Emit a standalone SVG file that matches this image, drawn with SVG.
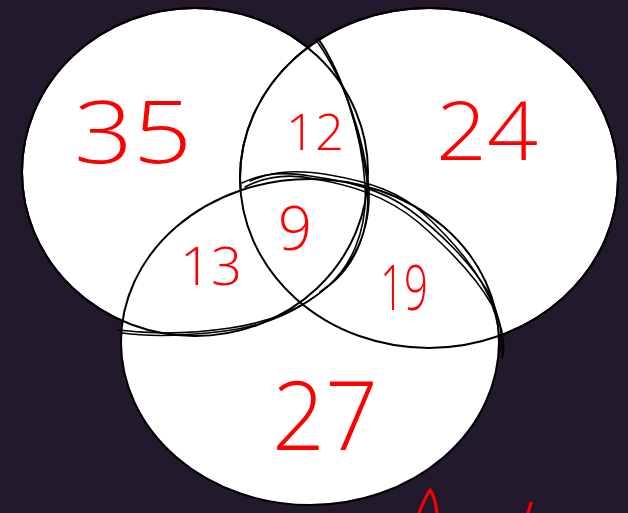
<svg xmlns="http://www.w3.org/2000/svg" width="628" height="513" viewBox="0 0 628 513">
<style>
.c{fill:#fff;stroke:#000;stroke-width:2}
.o{fill:none;stroke:#000;stroke-width:2}
.h{fill:none;stroke:#000;stroke-width:1.6;stroke-linecap:round;stroke-linejoin:round}
.n{fill:#ff0000;font-family:"Open Sans","Liberation Sans",sans-serif;font-weight:300}
</style>
<rect width="628" height="513" fill="#22192d"/>
<g id="circleA"><ellipse class="c" cx="195" cy="172" rx="173" ry="164"/></g>
<g id="circleB"><ellipse class="c" cx="429" cy="178" rx="189" ry="170"/></g>
<g id="circleC"><ellipse class="c" cx="310" cy="342" rx="189" ry="163"/></g>
<g id="outlines">
<ellipse class="o" cx="195" cy="172" rx="173" ry="164"/>
<ellipse class="o" cx="429" cy="178" rx="189" ry="170"/>
</g>
<g id="connectors">
<path class="h" stroke-width="2.8" d="M318 38 C340 70 360 130 367 180 C372 230 355 265 330 285 C300 310 270 322 230 328 C190 334 150 334 118 330"/>
<path class="h" d="M320 42 C343 75 362 135 365 185 C368 232 350 268 326 288 C298 312 265 326 225 331 C185 336 150 337 122 333"/>
<path class="h" d="M316 40 C345 80 365 140 369 190 C371 240 345 275 320 292"/>
<path class="h" stroke-width="2.4" d="M242 183 C265 172 285 172 310 176 C345 181 380 188 410 210 C440 232 470 262 488 292 C500 315 503 340 502 358"/>
<path class="h" d="M245 187 C268 175 292 174 315 179 C350 185 385 195 418 222 C448 248 475 275 492 305 C500 325 500 345 500 352"/>
<path class="h" d="M250 181 C275 170 300 170 330 175 C370 182 400 192 425 215 C455 243 480 272 495 310 C503 330 505 345 503 355"/>
</g>
<g id="labels">
<text class="n" x="74" y="163" font-size="86" textLength="118" lengthAdjust="spacingAndGlyphs">35</text>
<text class="n" x="286" y="150" font-size="50" textLength="58" lengthAdjust="spacingAndGlyphs">12</text>
<text class="n" x="436" y="160" font-size="82" textLength="102" lengthAdjust="spacingAndGlyphs">24</text>
<text class="n" x="278" y="250" font-size="60" textLength="34" lengthAdjust="spacingAndGlyphs">9</text>
<text class="n" x="180" y="285" font-size="54" textLength="62" lengthAdjust="spacingAndGlyphs">13</text>
<text class="n" x="380" y="310" font-size="62" textLength="48" lengthAdjust="spacingAndGlyphs">19</text>
<text class="n" x="272" y="450" font-size="96" textLength="106" lengthAdjust="spacingAndGlyphs">27</text>
</g>
<path fill="none" stroke="#ff0000" stroke-width="3" stroke-linecap="round" d="M419 513 C424 500 428 493 430 490 C434 495 436 505 437 513"/>
<path fill="none" stroke="#ff0000" stroke-width="3" stroke-linecap="round" d="M528 513 L531 503"/>
</svg>
